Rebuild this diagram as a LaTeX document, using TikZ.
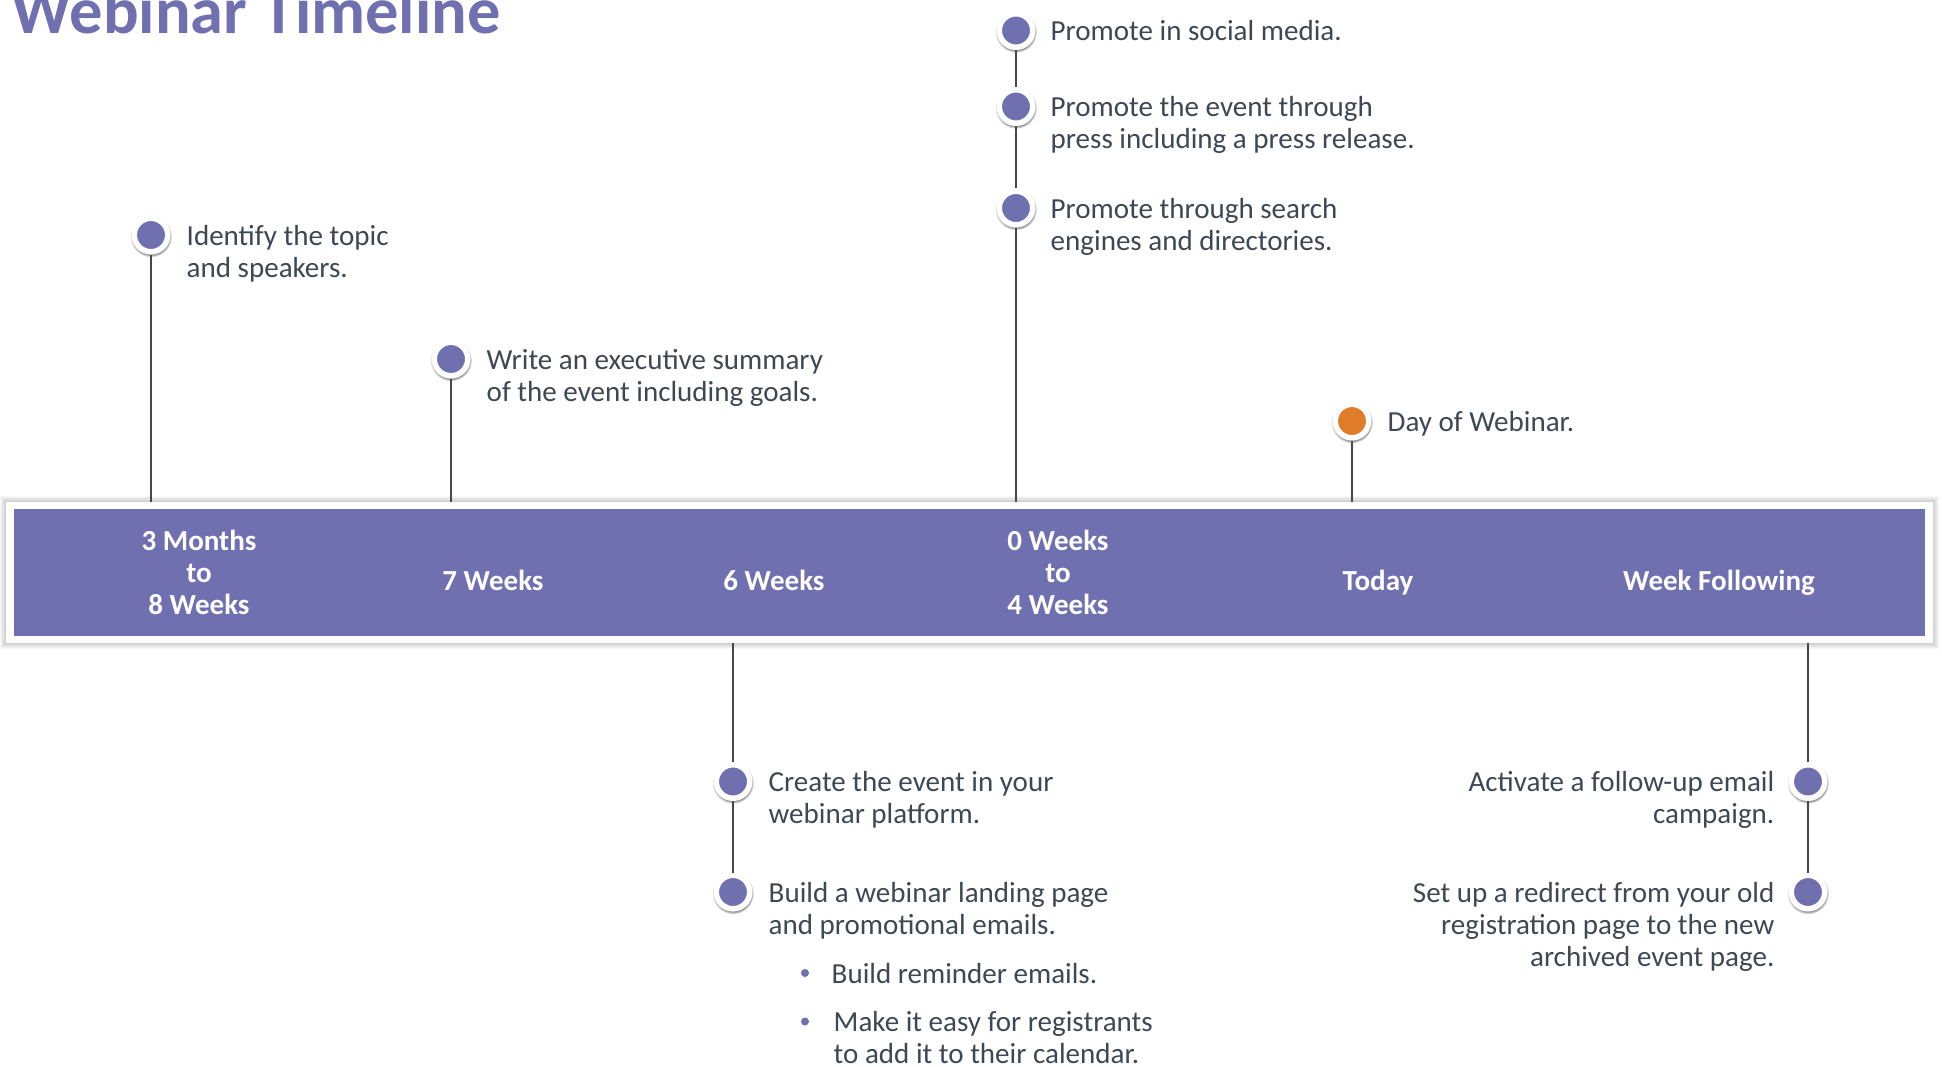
\documentclass[tikz,border=0pt]{standalone}
\usepackage{fontspec}
\setmainfont{Carlito}
\usetikzlibrary{positioning,shadows,backgrounds}

\definecolor{tlpurple}{HTML}{7070B0}
\definecolor{tlorange}{HTML}{E07B28}
\definecolor{tlink}{HTML}{3F4753}
\definecolor{tlstem}{HTML}{4B4545}
\newcommand{\notesize}{\fontsize{8.26}{9.1}\selectfont}
\newcommand{\noterows}[2][l]{\begin{tabular}[t]{@{}#1@{}}#2\end{tabular}}

\begin{document}
\begin{tikzpicture}[x=0.01cm,y=-0.01cm]
 \tikzset{
  dot/.style={circle, inner sep=0pt, minimum size=0.335cm, line width=0.055cm,
   draw=white, fill=tlpurple,
   circular drop shadow={fill=black, shadow xshift=0pt, shadow yshift=-0.3pt,
    shadow scale=1.25, opacity=0.45}},
  bullet/.style={circle, inner sep=0pt, minimum size=0.08cm, fill=tlpurple},
  note/.style={anchor=base west, inner sep=0pt, text=tlink, font=\notesize},
  noter/.style={note, anchor=base east},
  span/.style={anchor=base, inner sep=0pt, text=white, font=\notesize\bfseries},
  band/.style={fill=tlpurple, draw=white, line width=0.075cm, inner sep=0pt,
   minimum width=19.175cm, minimum height=1.34cm},
  stem/.style={draw=tlstem, line width=0.025cm}
 }
 \path[use as bounding box] (0,0) rectangle (1942,1066);

 \node (title) [anchor=base west, inner sep=0pt, text=tlpurple,
  font=\fontsize{18.9}{22}\selectfont\bfseries] at (11,33) {Webinar Timeline};

 % the time band
 \node[band] (band) at (969.5,572.5) {};
 \begin{scope}[on background layer]
  \fill[white] (0,0) rectangle (1942,1066);
  \foreach \k in {1,...,6}
   \fill[black, opacity=0.03] ([shift={(-\k,\k)}]band.south west)
    rectangle ([shift={(\k,-\k)}]band.north east);
 \end{scope}

 \node[span] (span1) at (199,550) {\noterows[c]{3 Months\\to\\8 Weeks}};
 \node[span] (span2) at (493,590) {7 Weeks};
 \node[span] (span3) at (774,590) {6 Weeks};
 \node[span] (span4) at (1058,550) {\noterows[c]{0 Weeks\\to\\4 Weeks}};
 \node[span] (span5) at (1378,590) {Today};
 \node[span] (span6) at (1719,590) {Week Following};

 % markers above the band
 \node[dot] (topic) at (151,235) {};
 \node[dot] (summary) at (451,359) {};
 \node[dot] (social) at (1016,30.5) {};
 \node[dot] (press) at (1016,106.5) {};
 \node[dot] (search) at (1016,208) {};
 \node[dot, fill=tlorange] (today) at (1352,421) {};

 \node[note] (topic text) at (186,245) {\noterows{Identify the topic\\and speakers.}};
 \node[note] (summary text) at (486,369) {\noterows{Write an executive summary\\of the event including goals.}};
 \node[note] (social text) at (1050,40) {Promote in social media.};
 \node[note] (press text) at (1050,116.5) {\noterows{Promote the event through\\press including a press release.}};
 \node[note] (search text) at (1050,218) {\noterows{Promote through search\\engines and directories.}};
 \node[note] (today text) at (1387,431) {Day of Webinar.};

 % markers below the band
 \node[dot] (create) at (733,781.5) {};
 \node[dot] (landing) at (733,892) {};
 \node[dot] (followup) at (1808,781.5) {};
 \node[dot] (redirect) at (1808,892) {};

 \node[note] (create text) at (768,791.5) {\noterows{Create the event in your\\webinar platform.}};
 \node[note] (landing text) at (768,902) {\noterows{Build a webinar landing page\\and promotional emails.}};
 \node[bullet] (b1) at (805,973) {};
 \node[note] (b1 text) at (831,983) {Build reminder emails.};
 \node[bullet] (b2) at (805,1021.5) {};
 \node[note] (b2 text) at (833,1031) {\noterows{Make it easy for registrants\\to add it to their calendar.}};

 \node[noter] (followup text) at (1775,791.5) {\noterows[r]{Activate a follow-up email\\campaign.}};
 \node[noter] (redirect text) at (1775,902) {\noterows[r]{Set up a redirect from your old\\registration page to the new\\archived event page.}};

 % stems
 \draw[stem] (topic) -- (topic |- band.north);
 \draw[stem] (summary) -- (summary |- band.north);
 \draw[stem] (social) -- (press);
 \draw[stem] (press) -- (search);
 \draw[stem] (search) -- (search |- band.north);
 \draw[stem] (today) -- (today |- band.north);
 \draw[stem] (create |- band.south) -- (create);
 \draw[stem] (create) -- (landing);
 \draw[stem] (followup |- band.south) -- (followup);
 \draw[stem] (followup) -- (redirect);
\end{tikzpicture}
\end{document}
